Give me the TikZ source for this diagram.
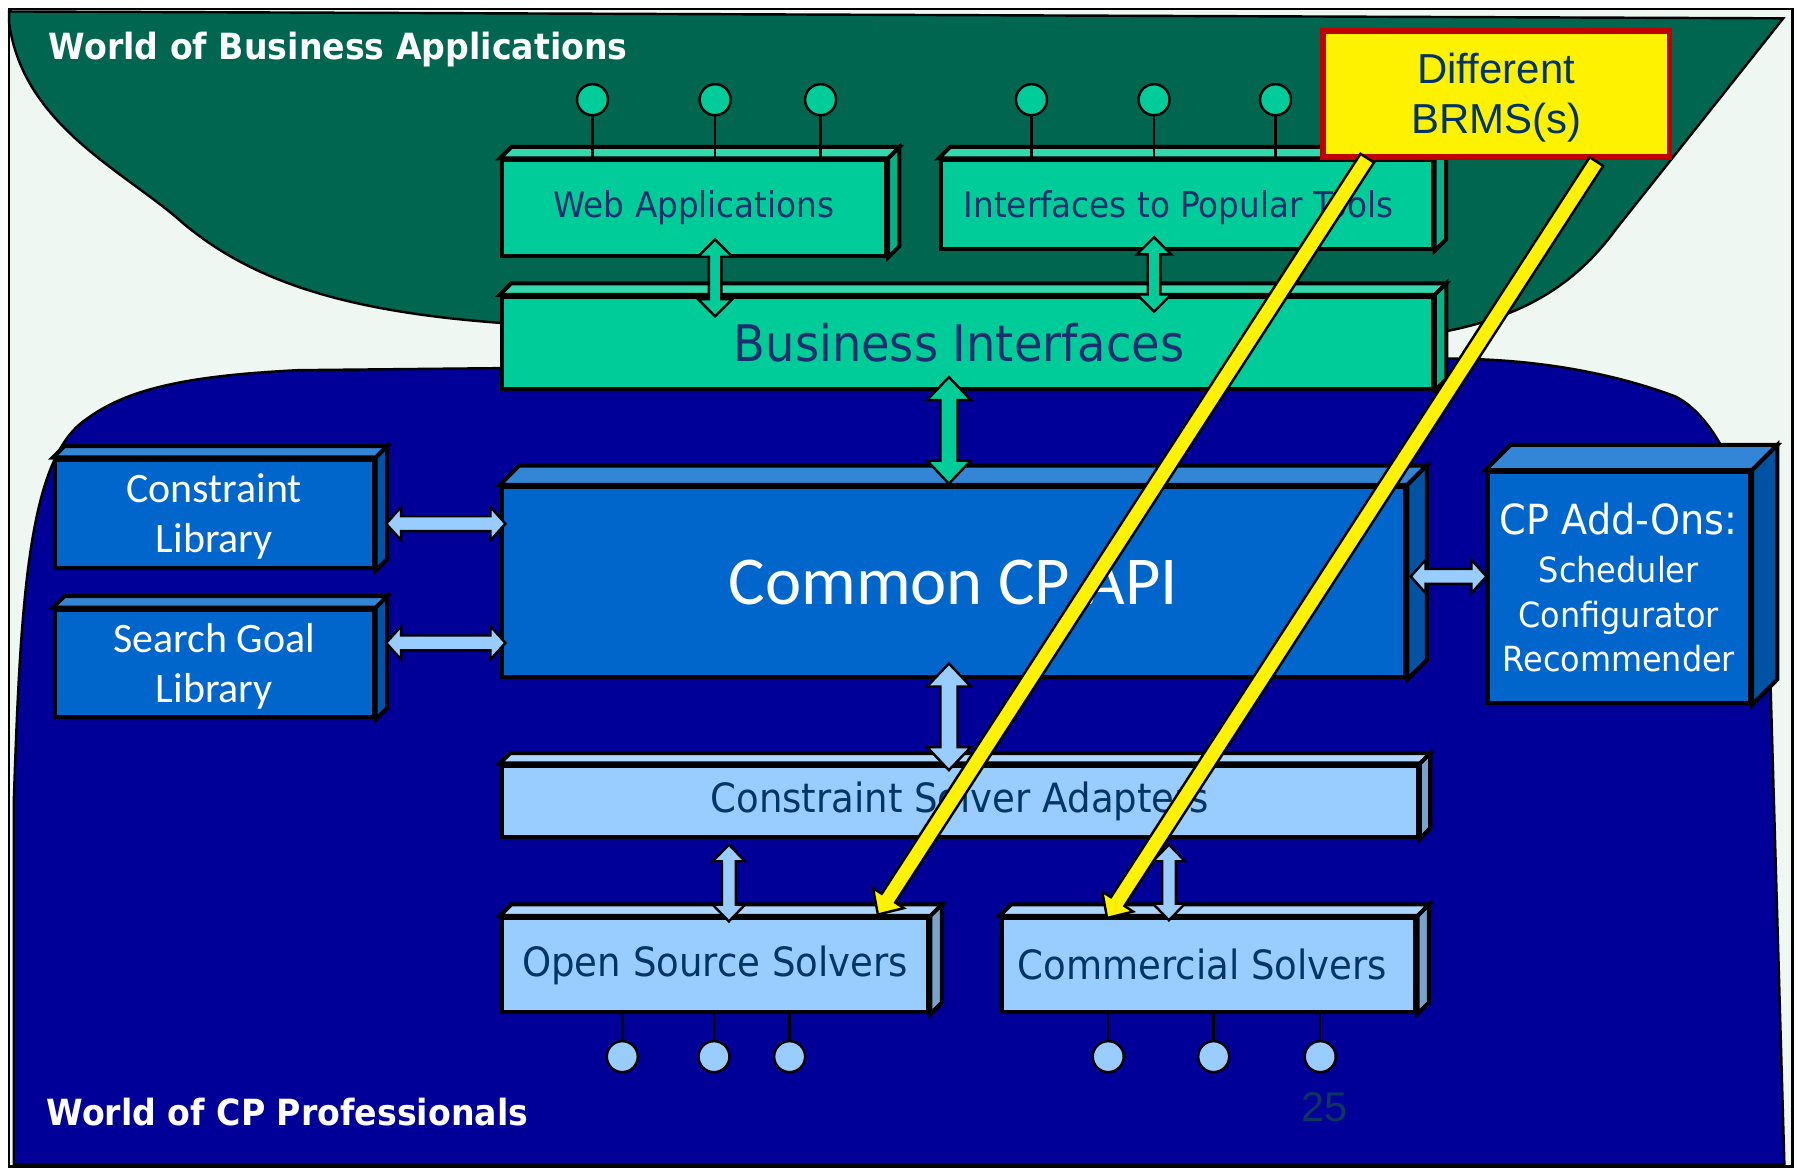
\documentclass[tikz,border=0pt]{standalone}
\usepackage{fontspec}
\usetikzlibrary{calc,shapes.geometric}
\newfontfamily\tah{DejaVu Sans}[FakeStretch=0.92]
\newfontfamily\calib{Carlito}
\newfontfamily\ari{Liberation Sans}

\definecolor{mint}{RGB}{238,247,241}
\definecolor{bizgreen}{RGB}{0,102,80}
\definecolor{cpblue}{RGB}{0,0,153}
\definecolor{gfront}{RGB}{0,204,153}
\definecolor{gtop}{RGB}{51,217,173}
\definecolor{gside}{RGB}{0,180,135}
\definecolor{bfront}{RGB}{0,102,204}
\definecolor{btop}{RGB}{51,133,214}
\definecolor{bside}{RGB}{0,82,163}
\definecolor{lfront}{RGB}{153,204,255}
\definecolor{ltop}{RGB}{173,214,255}
\definecolor{lside}{RGB}{122,163,204}
\definecolor{navytext}{RGB}{26,48,110}
\definecolor{solvtext}{RGB}{0,51,102}
\definecolor{brmsred}{RGB}{192,0,0}
\definecolor{brmstext}{RGB}{0,51,102}
\definecolor{pagenum}{RGB}{10,55,95}

% top and right faces of a 3d box: node, depth, top colour, side colour
\newcommand\boxfaces[4]{%
  \draw[line width=1pt, fill=#3] (#1.north west) -- ++(#2,-#2) -- ([shift={(#2,-#2)}]#1.north east) -- (#1.north east) -- cycle;
  \draw[line width=1pt, fill=#4] (#1.north east) -- ++(#2,-#2) -- ([shift={(#2,-#2)}]#1.south east) -- (#1.south east) -- cycle;
}

\tikzset{
  box/.style={draw=black, line width=1pt, inner sep=0pt, align=center},
  gbox/.style={box, fill=gfront, text=navytext},
  bbox/.style={box, fill=bfront, text=white},
  lbox/.style={box, fill=lfront, text=solvtext},
  gpin/.style={ellipse, draw=black, line width=0.6pt, fill=gfront, minimum width=0.27cm, minimum height=0.27cm, inner sep=0pt},
  lpin/.style={gpin, fill=lfront},
  stem/.style={line width=0.6pt},
  % double block arrow: head length, head half width, shaft half width
  dblarrow/.style n args={3}{to path={
    -- ($(\tikztostart)!#1!(\tikztotarget)!#2!90:(\tikztotarget)$)
    -- ($(\tikztostart)!#1!(\tikztotarget)!#3!90:(\tikztotarget)$)
    -- ($(\tikztotarget)!#1!(\tikztostart)!#3!-90:(\tikztostart)$)
    -- ($(\tikztotarget)!#1!(\tikztostart)!#2!-90:(\tikztostart)$)
    -- (\tikztotarget)
    -- ($(\tikztotarget)!#1!(\tikztostart)!#2!90:(\tikztostart)$)
    -- ($(\tikztotarget)!#1!(\tikztostart)!#3!90:(\tikztostart)$)
    -- ($(\tikztostart)!#1!(\tikztotarget)!#3!-90:(\tikztotarget)$)
    -- ($(\tikztostart)!#1!(\tikztotarget)!#2!-90:(\tikztotarget)$)
    -- cycle}},
  % single block arrow
  sglarrow/.style n args={3}{to path={
    ($(\tikztostart)!#3!90:(\tikztotarget)$)
    -- ($(\tikztotarget)!#1!(\tikztostart)!#3!-90:(\tikztostart)$)
    -- ($(\tikztotarget)!#1!(\tikztostart)!#2!-90:(\tikztostart)$)
    -- (\tikztotarget)
    -- ($(\tikztotarget)!#1!(\tikztostart)!#2!90:(\tikztostart)$)
    -- ($(\tikztotarget)!#1!(\tikztostart)!#3!90:(\tikztostart)$)
    -- ($(\tikztostart)!#3!-90:(\tikztotarget)$)
    -- cycle}},
  garrow/.style={draw=black, line width=0.6pt, fill=gfront, dblarrow={0.15cm}{0.15cm}{0.055cm}},
  bigarrow/.style={draw=black, line width=0.6pt, dblarrow={0.2cm}{0.19cm}{0.075cm}},
  larrow/.style={draw=black, line width=0.6pt, fill=lfront, dblarrow={0.13cm}{0.145cm}{0.065cm}},
  yarrow/.style={draw=black, line width=0.6pt, fill=yellow, sglarrow={0.17cm}{0.16cm}{0.07cm}}
}

\begin{document}
\begin{tikzpicture}[x=0.01cm, y=-0.01cm]
\useasboundingbox (0,0) rectangle (1568,1019);

% Drawing frame
\draw[fill=mint, line width=0.6pt] (8,8) rectangle (1564,1018);

% Drawing world of business applications
\draw[fill=bizgreen, line width=0.6pt] (8,10) -- (1556,16) -- (1410,200) .. controls (1370,255) and (1320,278) .. (1257,290) -- (1250,300) -- (445,300) -- (440,282) .. controls (300,272) and (220,245) .. (160,195) .. controls (110,150) and (20,110) .. (8,20) -- cycle;

% Drawing world of CP professionals
\draw[fill=cpblue, line width=0.6pt] (12,1016) -- (12,700) .. controls (18,520) and (25,400) .. (75,366) .. controls (110,340) and (160,328) .. (260,323) -- (1257,313) .. controls (1350,312) and (1420,330) .. (1462,346) .. controls (1480,355) and (1495,375) .. (1505,395) -- (1545,600) -- (1557,1016) -- cycle;

% Region labels
\node[anchor=base west, inner sep=0pt, text=white, font=\tah\bfseries\fontsize{8.95}{10}\selectfont] (bizlabel) at (42,52) {World of Business Applications};
\node[anchor=base west, inner sep=0pt, text=white, font=\tah\bfseries\fontsize{8.95}{10}\selectfont] (cplabel) at (40,982) {World of CP Professionals};

% Drawing box Web Applications
\node[gbox, minimum width=3.35cm, minimum height=0.83cm, font=\tah\fontsize{8.8}{10.5}\selectfont] (web) at (605.5,181.5) {Web Applications};
\boxfaces{web}{10}{gtop}{gside}

% Drawing box Interfaces to Popular Tools
\node[gbox, minimum width=4.29cm, minimum height=0.77cm, font=\tah\fontsize{8.8}{10.5}\selectfont] (tools) at (1035.5,178.5) {\rule{0pt}{8.5pt}Interfaces to Popular Tools\hspace*{4pt}};
\boxfaces{tools}{10}{gtop}{gside}

% Marking pins of Web Applications
\node[gpin] (wp1) at (517,87) {};
\node[gpin] (wp2) at (624,87) {};
\node[gpin] (wp3) at (716,87) {};
\draw[stem] (wp1) -- (wp1 |- web.north);
\draw[stem] (wp2) -- (wp2 |- web.north);
\draw[stem] (wp3) -- (wp3 |- web.north);

% Marking pins of Interfaces to Popular Tools
\node[gpin] (tp1) at (900,87) {};
\node[gpin] (tp2) at (1007,87) {};
\node[gpin] (tp3) at (1113,87) {};
\draw[stem] (tp1) -- (tp1 |- tools.north);
\draw[stem] (tp2) -- (tp2 |- tools.north);
\draw[stem] (tp3) -- (tp3 |- tools.north);

% Drawing box Business Interfaces
\node[gbox, minimum width=8.12cm, minimum height=0.80cm, font=\tah\fontsize{12.5}{14}\selectfont] (bizint) at (844,299) {Business Interfaces\hspace*{4pt}};
\boxfaces{bizint}{10}{gtop}{gside}

% Drawing box Common CP API
\node[bbox, minimum width=7.88cm, minimum height=1.66cm, font=\calib\fontsize{17}{20}\selectfont] (cpapi) at (832,508) {Common CP API};
\boxfaces{cpapi}{17}{btop}{bside}

% Drawing boxes of libraries
\node[bbox, minimum width=2.78cm, minimum height=0.95cm, font=\calib\fontsize{10.4}{12.5}\selectfont] (conlib) at (187,448.5) {\rule{0pt}{8.5pt}Constraint\\Library};
\boxfaces{conlib}{10}{btop}{bside}
\node[bbox, minimum width=2.78cm, minimum height=0.94cm, font=\calib\fontsize{10.4}{12.5}\selectfont] (goallib) at (187,579) {\rule{0pt}{8.5pt}Search Goal\\Library};
\boxfaces{goallib}{10}{btop}{bside}

% Drawing box CP Add-Ons
\node[bbox, minimum width=2.29cm, minimum height=2.01cm, font=\tah\fontsize{8.6}{11}\selectfont] (addons) at (1412.5,512.5) {{\fontsize{10.3}{11}\selectfont CP Add-Ons:}\\[1pt]Scheduler\\Configurator\\Recommender};
\boxfaces{addons}{22}{btop}{bside}

% Drawing box Constraint Solver Adapters
\node[lbox, minimum width=7.99cm, minimum height=0.62cm, font=\tah\fontsize{10}{12}\selectfont] (adapters) at (837.5,699) {Constraint Solver Adapters};
\boxfaces{adapters}{9}{ltop}{lside}

% Marking pins of solvers
\node[lpin] (op1) at (543,922) {};
\node[lpin] (op2) at (623,922) {};
\node[lpin] (op3) at (689,922) {};
\node[lpin] (cp1) at (967,922) {};
\node[lpin] (cp2) at (1059,922) {};
\node[lpin] (cp3) at (1152,922) {};
\draw[stem] (op1) -- (op1 |- 0,883);
\draw[stem] (op2) -- (op2 |- 0,883);
\draw[stem] (op3) -- (op3 |- 0,883);
\draw[stem] (cp1) -- (cp1 |- 0,883);
\draw[stem] (cp2) -- (cp2 |- 0,883);
\draw[stem] (cp3) -- (cp3 |- 0,883);

% Drawing boxes of solvers
\node[lbox, minimum width=3.72cm, minimum height=0.82cm, font=\tah\fontsize{10}{12}\selectfont] (opensrc) at (624,842) {Open Source Solvers};
\boxfaces{opensrc}{10}{ltop}{lside}
\node[lbox, minimum width=3.61cm, minimum height=0.82cm, font=\tah\fontsize{10}{12}\selectfont] (commerc) at (1054.5,842) {Commercial Solvers\hspace*{3pt}};
\boxfaces{commerc}{10}{ltop}{lside}

% Arrow ends
\coordinate (wa1) at (624,209);  \coordinate (wa2) at (624,276);
\coordinate (ta1) at (1007,207); \coordinate (ta2) at (1007,272);
\coordinate (ba1) at (828,329);  \coordinate (ba2) at (828,422);
\coordinate (aa1) at (828,579);  \coordinate (aa2) at (828,672);
\coordinate (cl1) at (337,457);  \coordinate (cl2) at (441,457);
\coordinate (gl1) at (337,561);  \coordinate (gl2) at (441,561);
\coordinate (ad1) at (1231,503); \coordinate (ad2) at (1297,503);
\coordinate (os1) at (636,737);  \coordinate (os2) at (636,804);
\coordinate (cs1) at (1020,737); \coordinate (cs2) at (1020,803);

% Drawing double arrows
\draw[garrow] (wa1) to (wa2);
\draw[garrow] (ta1) to (ta2);
\draw[bigarrow, fill=gfront] (ba1) to (ba2);
\draw[bigarrow, fill=lfront] (aa1) to (aa2);
\draw[larrow] (cl1) to (cl2);
\draw[larrow] (gl1) to (gl2);
\draw[larrow] (ad1) to (ad2);
\draw[larrow, dblarrow={0.145cm}{0.14cm}{0.06cm}] (os1) to (os2);
\draw[larrow, dblarrow={0.145cm}{0.14cm}{0.06cm}] (cs1) to (cs2);

% Drawing box Different BRMS(s)
\node[draw=brmsred, line width=1.3pt, fill=yellow, text=brmstext, minimum width=3.02cm, minimum height=1.10cm, align=center, font=\ari\fontsize{10.4}{12.5}\selectfont] (brms) at (1305.5,82) {\rule{0pt}{9.3pt}Different\\BRMS(s)};

% Drawing yellow arrows
\coordinate (ya1) at (1193,138); \coordinate (ya2) at (766,798);
\coordinate (yb1) at (1393,141); \coordinate (yb2) at (966,801);
\draw[yarrow] (ya1) to (ya2);
\draw[yarrow] (yb1) to (yb2);

% Page number
\node[text=pagenum, font=\ari\fontsize{10.3}{12}\selectfont] (pagenr) at (1156,966) {25};
\end{tikzpicture}
\end{document}
